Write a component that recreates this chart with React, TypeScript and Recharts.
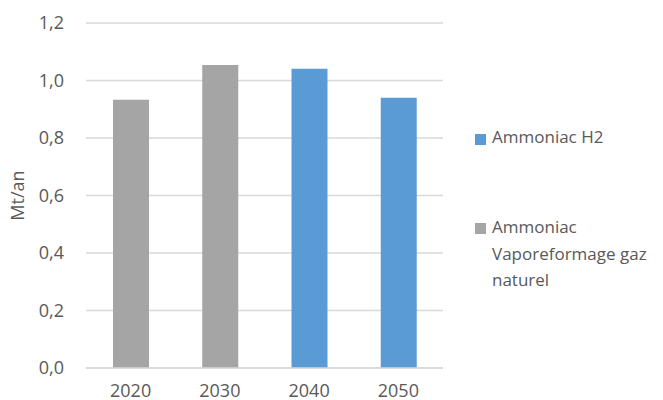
import { BarChart, Bar, XAxis, YAxis, CartesianGrid } from 'recharts'

const years = ['2020', '2030', '2040', '2050']
const ammoniacVapo = [0.933, 1.054, 0, 0]
const ammoniacH2 = [0, 0, 1.041, 0.94]
const yTicks = [0, 0.2, 0.4, 0.6, 0.8, 1.0, 1.2]

const seriesNames = ['Ammoniac H2', 'Ammoniac Vaporeformage gaz naturel']

const BLUE = '#5b9bd5'
const GREY = '#a5a5a5'
const TEXT = '#595959'
const FONT = '"Open Sans", "Noto Sans", sans-serif'

const data = years.map((y, i) => ({
  year: y,
  vapo: ammoniacVapo[i],
  h2: ammoniacH2[i],
}))

const fmt = (v: number) => v.toFixed(1).replace('.', ',')

function LegendBox() {
  const sq = { position: 'absolute' as const, width: 11, height: 11 }
  const txt = {
    position: 'absolute' as const,
    left: 492,
    fontFamily: FONT,
    fontSize: 17,
    color: TEXT,
    lineHeight: '26.5px',
    whiteSpace: 'nowrap' as const,
  }
  return (
    <>
      <div style={{ ...sq, left: 475, top: 134, background: BLUE }} />
      <div style={{ ...txt, top: 124 }}>{seriesNames[0]}</div>
      <div style={{ ...sq, left: 475, top: 223, background: GREY }} />
      <div style={{ ...txt, top: 214 }}>
        Ammoniac
        <br />
        Vaporeformage gaz
        <br />
        naturel
      </div>
    </>
  )
}

export default function App() {
  return (
    <div style={{ position: 'absolute', left: 0, top: 0, width: 663, height: 400, background: '#fff' }}>
      <BarChart
        width={663}
        height={400}
        data={data}
        margin={{ top: 23, right: 220, bottom: 0, left: 0 }}
      >
        <CartesianGrid vertical={false} stroke="#d9d9d9" strokeWidth={1.3} />
        <XAxis
          dataKey="year"
          height={32}
          tickLine={false}
          axisLine={{ stroke: '#d9d9d9', strokeWidth: 1.3 }}
          tickMargin={10}
          tick={{ fontSize: 18, fill: TEXT, fontFamily: FONT }}
        />
        <YAxis
          width={86}
          domain={[0, 1.2]}
          ticks={yTicks}
          tickFormatter={fmt}
          axisLine={false}
          tickLine={false}
          tickMargin={16}
          tick={{ fontSize: 18, fill: TEXT, fontFamily: FONT }}
          label={{
            value: 'Mt/an',
            angle: -90,
            position: 'insideLeft',
            offset: 18,
            style: { fontSize: 18, fill: TEXT, fontFamily: FONT, textAnchor: 'middle' },
          }}
        />
        <Bar dataKey="vapo" name={seriesNames[1]} stackId="a" fill={GREY} barSize={36} isAnimationActive={false} />
        <Bar dataKey="h2" name={seriesNames[0]} stackId="a" fill={BLUE} barSize={36} isAnimationActive={false} />
      </BarChart>
      <LegendBox />
    </div>
  )
}
